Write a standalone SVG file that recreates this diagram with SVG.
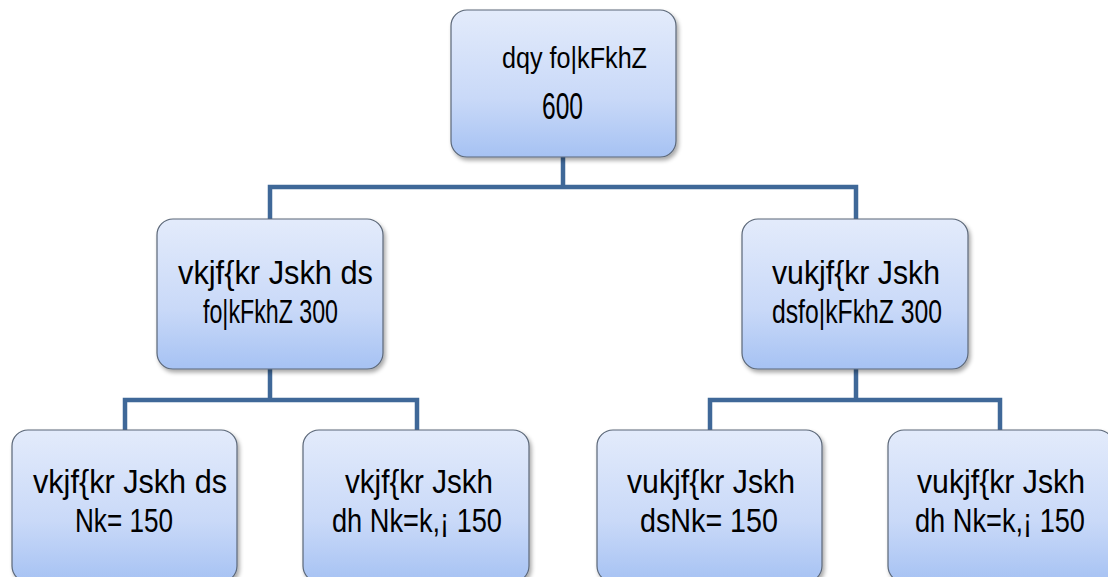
<svg xmlns="http://www.w3.org/2000/svg" width="1108" height="577" viewBox="0 0 1108 577">
<style>
.box{fill:url(#g);stroke:#5b6778;stroke-width:1.2;filter:url(#sh)}
.t{font-family:"Liberation Sans",Arial,sans-serif;font-size:34px;fill:#000}
.c{fill:none;stroke:#3f6898;stroke-width:4.5}
</style>
<defs>
<linearGradient id="g" x1="0" y1="0" x2="0" y2="1">
<stop offset="0" stop-color="#e3ebfb"/>
<stop offset="0.6" stop-color="#c9d9f8"/>
<stop offset="1" stop-color="#a6c2f3"/>
</linearGradient>
<filter id="sh" x="-10%" y="-10%" width="125%" height="125%">
<feGaussianBlur in="SourceAlpha" stdDeviation="2"/>
<feOffset dx="2" dy="3"/>
<feComponentTransfer><feFuncA type="linear" slope="0.35"/></feComponentTransfer>
<feMerge><feMergeNode/><feMergeNode in="SourceGraphic"/></feMerge>
</filter>
</defs>
<g id="connectors">
<path class="c" d="M563 157V187M270 219V187H856V219"/>
<path class="c" d="M270 369V400M125 430V400H417V430"/>
<path class="c" d="M856 369V400M710 430V400H1000V430"/>
</g>
<g id="n0">
<rect class="box" x="451" y="10" width="225" height="147" rx="16"/>
<text class="t" x="502" y="68" style="font-size:29px" textLength="145" lengthAdjust="spacingAndGlyphs">dqy fo|kFkhZ</text>
<text class="t" x="542" y="119" style="font-size:37px" textLength="41" lengthAdjust="spacingAndGlyphs">600</text>
</g>
<g id="n1">
<rect class="box" x="157" y="219" width="226" height="150" rx="16"/>
<text class="t" x="178" y="284" textLength="195" lengthAdjust="spacingAndGlyphs">vkjf{kr Jskh ds</text>
<text class="t" x="203" y="323" textLength="135" lengthAdjust="spacingAndGlyphs">fo|kFkhZ 300</text>
</g>
<g id="n2">
<rect class="box" x="742" y="219" width="226" height="150" rx="16"/>
<text class="t" x="772" y="284" textLength="168" lengthAdjust="spacingAndGlyphs">vukjf{kr Jskh</text>
<text class="t" x="772" y="323" textLength="170" lengthAdjust="spacingAndGlyphs">dsfo|kFkhZ 300</text>
</g>
<g id="n3">
<rect class="box" x="12" y="430" width="225" height="152" rx="16"/>
<text class="t" x="33" y="493" textLength="194" lengthAdjust="spacingAndGlyphs">vkjf{kr Jskh ds</text>
<text class="t" x="75" y="532" textLength="98" lengthAdjust="spacingAndGlyphs">Nk= 150</text>
</g>
<g id="n4">
<rect class="box" x="303" y="430" width="226" height="152" rx="16"/>
<text class="t" x="345" y="493" textLength="148" lengthAdjust="spacingAndGlyphs">vkjf{kr Jskh</text>
<text class="t" x="332" y="532" textLength="170" lengthAdjust="spacingAndGlyphs">dh Nk=k,¡ 150</text>
</g>
<g id="n5">
<rect class="box" x="597" y="430" width="225" height="152" rx="16"/>
<text class="t" x="627" y="493" textLength="168" lengthAdjust="spacingAndGlyphs">vukjf{kr Jskh</text>
<text class="t" x="640" y="532" textLength="138" lengthAdjust="spacingAndGlyphs">dsNk=  150</text>
</g>
<g id="n6">
<rect class="box" x="888" y="430" width="226" height="152" rx="16"/>
<text class="t" x="917" y="493" textLength="168" lengthAdjust="spacingAndGlyphs">vukjf{kr Jskh</text>
<text class="t" x="915" y="532" textLength="170" lengthAdjust="spacingAndGlyphs">dh Nk=k,¡ 150</text>
</g>
</svg>
